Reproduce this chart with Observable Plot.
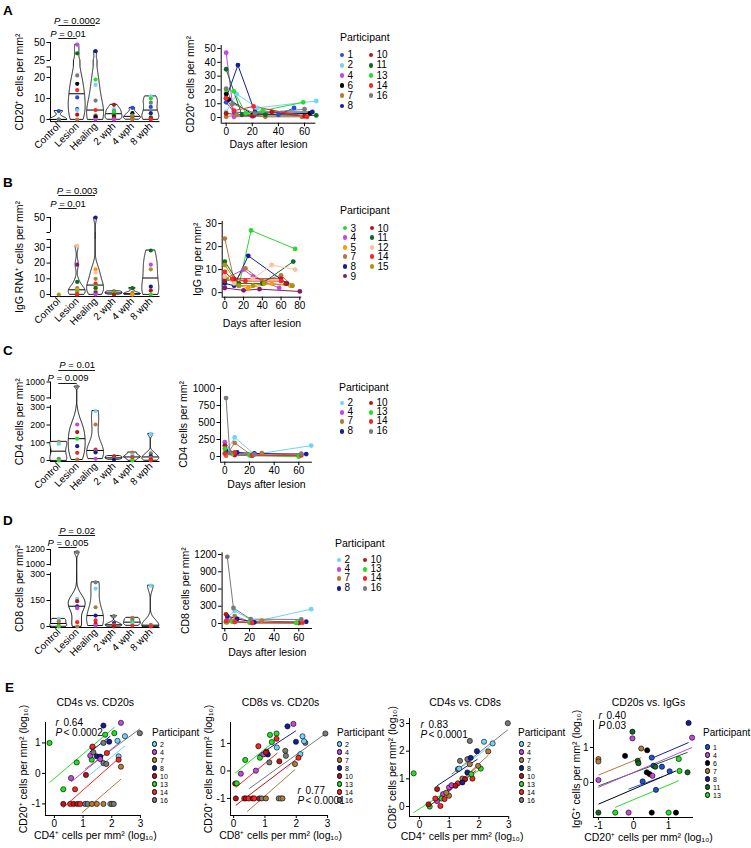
<!DOCTYPE html>
<html><head><meta charset="utf-8">
<script src="https://cdn.jsdelivr.net/npm/d3@7"></script>
<script src="https://cdn.jsdelivr.net/npm/@observablehq/plot@0.6"></script>
<style>
html,body{margin:0;padding:0;background:#fff;}
#page{position:relative;width:751px;height:848px;overflow:hidden;font-family:"Liberation Sans",Arial,sans-serif;color:#000;}
#page svg{position:absolute;left:0;top:0;}
#page .t{position:absolute;white-space:nowrap;}
#page .d{position:absolute;border-radius:50%;box-sizing:border-box;}
</style></head>
<body><div id="page"></div>
<script>
// ================= DATA =================
const participantIds = [1,2,3,4,5,6,7,8,9,10,11,12,13,14,15,16];
const participantColors = ["#1f4fe0","#6fd4f7","#2fd62f","#c447e0","#ff9a00","#000000","#b37a3c","#141e96","#86186c","#b81616","#0e6a1e","#f9c39a","#22e022","#ff2424","#a69812","#7a7a7a"];
const violinCategories = ["Control","Lesion","Healing","2 wph","4 wph","8 wph"];

// violin rows: [category index, value, participant]
const cd20Violin = [
 [0,4,1],[0,0,11],[0,0,16],
 [1,47,4],[1,35,11],[1,21,16],[1,17,6],[1,14,14],[1,10.5,1],[1,5,8],[1,4.5,2],[1,2.3,10],[1,0,7],
 [2,38,8],[2,19,13],[2,16.5,2],[2,9,16],[2,4.5,14],[2,2,7],[2,1.5,11],[2,1,6],[2,0,4],
 [3,7,10],[3,5,2],[3,4,16],[3,3.5,13],[3,2,11],[3,1,6],[3,0.5,14],[3,0,4],
 [4,5.5,1],[4,3,6],[4,2,16],[4,1,13],[4,0.5,14],[4,0,7],
 [5,11,2],[5,10,13],[5,8,16],[5,6,1],[5,3,8],[5,1,11],[5,0.5,10],[5,0,14]
];
const igRnaViolin = [
 [0,0,15],
 [1,31,12],[1,19,9],[1,8,11],[1,4,7],[1,3,5],[1,2,3],[1,1,15],[1,0,10],[1,0,14],
 [2,50,8],[2,16,5],[2,14,12],[2,10,7],[2,7,14],[2,5,3],[2,4,11],[2,2,15],[2,1,9],[2,0,4],
 [3,2,11],[3,1.5,7],[3,1,15],[3,0.5,3],[3,0,10],
 [4,4,11],[4,1,7],[4,0,15],[4,0,5],
 [5,28,11],[5,19,4],[5,16,15],[5,5,8],[5,2.5,10],[5,0,3]
];
const cd4Violin = [
 [0,105,7],[0,95,2],[0,10,16],[0,0,13],
 [1,855,16],[1,203,4],[1,160,10],[1,123,13],[1,81,8],[1,43,14],[1,5,7],
 [2,279,2],[2,203,7],[2,62,14],[2,51,16],[2,45,8],[2,10,4],
 [3,25,16],[3,20,10],[3,15,14],[3,10,7],[3,5,8],
 [4,45,7],[4,30,2],[4,20,16],[4,15,14],[4,0,13],
 [5,150,2],[5,40,16],[5,25,8],[5,15,7],[5,5,10],[5,0,14]
];
const cd8Violin = [
 [0,44,2],[0,30,7],[0,5,16],[0,0,13],
 [1,1165,16],[1,160,2],[1,146,10],[1,117,8],[1,106,4],[1,25,14],[1,0,7],
 [2,255,16],[2,219,2],[2,111,7],[2,63,8],[2,35,14],[2,15,10],[2,5,4],
 [3,60,16],[3,20,8],[3,10,7],[3,5,14],[3,0,10],
 [4,50,7],[4,40,16],[4,25,13],[4,15,2],[4,5,14],
 [5,236,2],[5,10,16],[5,5,7],[5,0,14]
];
// significance brackets: [from category, to category, P value]
const cd20Stats = [[0,2,"0.0002"],[0,1,"0.01"]];
const igRnaStats = [[0,2,"0.003"],[0,1,"0.01"]];
const cd4Stats = [[0,2,"0.01"],[0,1,"0.009"]];
const cd8Stats = [[0,2,"0.02"],[0,1,"0.005"]];

// broken-axis tick values and labels
const cd20Ticks = [0,10,20,25,25.01,50];
const cd20TickLabels = ["0","10","20","","25","50"];
const igRnaTicks = [0,10,20,30,35,35.01,50];
const igRnaTickLabels = ["0","10","20","30","","","50"];
const cd4Ticks = [0,100,200,300,500,1000];
const cd4TickLabels = ["0","100","200","300","500","1000"];
const cd8Ticks = [0,150,300,1000,1200];
const cd8TickLabels = ["0","150","300","1000","1200"];

// time courses: [participant, day, value]
const cd20Time = [
 [1,0,11],[1,6,4],[1,40,2],[1,52,7],
 [2,0,4],[2,8,17],[2,24,7],[2,69,12],
 [4,0,47],[4,6,0.5],[4,21,1],[4,60,1],
 [6,0,17],[6,2,13],[6,21,2],[6,64,3],
 [7,0,0.5],[7,8,2],[7,30,0.5],[7,58,0.5],
 [8,0,14],[8,9,38],[8,22,4],[8,66,4],
 [10,0,3],[10,20,1],[10,35,4],[10,60,1],
 [11,0,35],[11,12,2],[11,30,2],[11,69,1.5],
 [13,0,20],[13,6,19],[13,15,3],[13,28,5],[13,59,11],
 [14,0,14],[14,6,5],[14,21,8],[14,62,0.5],
 [16,0,21],[16,5,10],[16,22,3],[16,60,6]
];
const igGTime = [
 [3,2,6],[3,15,3],[3,28,27],[3,75,19],
 [4,0,6],[4,20,10],[4,30,7],[4,58,2],
 [5,0,9],[5,15,3],[5,25,2],[5,50,4],[5,70,3],
 [7,0,23.5],[7,10,5],[7,22,10.5],[7,40,5],[7,60,7.5],[7,72,3],
 [8,0,4],[8,10,3],[8,25,16],[8,66,4],
 [9,0,2],[9,20,1],[9,37,1.5],[9,80,0.5],
 [10,0,5],[10,10,6],[10,60,6],[10,65,4],
 [11,0,13.5],[11,15,4],[11,40,4],[11,73,13.5],
 [12,0,7],[12,10,4],[12,30,6],[12,50,12],[12,75,10],
 [14,0,9],[14,8,6],[14,22,5],[14,60,5],
 [15,0,12],[15,15,3],[15,30,3],[15,42,4],[15,72,3]
];
const cd4Time = [
 [2,2,90],[2,8,280],[2,24,30],[2,70,160],
 [4,0,210],[4,8,20],[4,22,10],[4,60,10],
 [7,1,10],[7,8,200],[7,22,15],[7,30,50],[7,60,15],
 [8,1,80],[8,10,60],[8,24,45],[8,66,35],
 [10,0,160],[10,8,25],[10,22,20],[10,60,5],
 [13,0,115],[13,6,40],[13,20,15],[13,60,0],
 [14,0,45],[14,8,60],[14,22,15],[14,62,15],
 [16,1,860],[16,4,50],[16,24,30],[16,62,40]
];
const cd8Time = [
 [2,2,100],[2,8,220],[2,24,30],[2,70,250],
 [4,2,80],[4,8,30],[4,22,10],[4,60,10],
 [7,2,20],[7,8,130],[7,22,20],[7,30,50],[7,58,15],
 [8,2,130],[8,10,80],[8,24,20],[8,66,30],
 [10,1,160],[10,8,30],[10,22,20],[10,60,10],
 [13,1,20],[13,6,30],[13,20,15],[13,58,10],
 [14,1,40],[14,8,30],[14,22,10],[14,63,15],
 [16,2,1160],[16,7,270],[16,21,75],[16,62,70]
];

// correlations (log10): points [x, y, participant]; fits [participant, x1, y1, x2, y2]
const cd4VsCd20 = [
 [-0.17,1.0,13],[0.31,-0.52,13],[0.78,0.36,13],[0.58,-0.15,4],[1.1,-0.05,10],[0.72,-0.52,14],
 [1.33,0.86,13],[1.33,0.88,14],[1.3,0.45,13],[1.25,0.58,4],[1.36,0.69,16],[1.48,0.56,8],
 [1.6,0.55,8],[1.71,1.57,8],[1.77,1.27,13],[1.71,1.0,16],[1.91,1.04,8],[1.83,0.67,14],
 [1.6,0.47,4],[1.71,0.34,16],[1.81,0.31,16],[2.32,1.66,4],[2.09,1.32,13],[2.2,1.07,2],
 [2.46,1.22,2],[2.98,1.32,16],[2.24,0.56,2],[2.24,0.45,14],[2.32,0.22,7],
 [0.31,-1,10],[0.55,-1,14],[0.67,-1,10],[0.8,-1,10],[0.9,-1,14],[1.07,-1,16],[1.16,-1,16],
 [1.31,-1,7],[1.48,-1,7],[1.71,-1,7],[1.95,-1,2],[2.0,-1,7],[2.07,-1,16]
];
const cd4VsCd20Fits = [
 [13,-0.17,-0.3,2.1,1.52],[4,0.58,-0.28,2.32,1.05],[8,1.22,0.69,1.95,1.22],[16,1.07,0.14,2.98,1.46],
 [2,1.19,-0.08,2.46,0.9],[14,0.31,-1.12,2.24,0.49],[7,0.96,-1.29,2.32,-0.19]
];
const cd8VsCd20 = [
 [0.05,-0.46,10],[0.1,-0.45,13],[0.23,-0.1,4],[0.37,0.4,13],[0.71,0.01,4],[0.79,0.9,14],
 [0.84,0.48,13],[0.95,0.6,4],[1.09,0.6,8],[1.05,0.7,14],[1.03,0.67,10],[1.16,1.31,13],
 [1.22,1.05,13],[1.14,0.31,16],[1.37,1.36,13],[1.37,1.17,14],[1.38,0.85,2],[1.65,0.73,16],
 [1.67,0.55,16],[1.46,0.35,10],[1.72,1.62,8],[1.91,1.71,4],[1.99,1.06,8],[1.96,0.25,7],
 [2.2,1.26,2],[2.29,1.02,16],[2.13,0.61,2],[2.07,0.48,14],[2.93,1.36,16],[2.25,1.08,2],
 [0.07,-1,10],[0.34,-1,14],[0.39,-1,10],[0.48,-1,14],[0.61,-1,10],[0.66,-1,14],[0.82,-1,10],
 [0.9,-1,16],[1.03,-1,7],[1.44,-1,7],[1.51,-1,2],[1.56,-1,7]
];
const cd8VsCd20Fits = [
 [13,0.05,-0.08,1.27,1.05],[14,0.07,-0.6,1.4,0.65],[10,0.07,-1.25,2.15,0.55],[8,0.77,0.55,1.99,1.46],
 [16,0.5,-0.64,2.89,1.32],[2,1.67,0.05,2.25,0.7],[7,0.43,-1.48,1.96,0.05]
];
const cd4VsCd8 = [
 [-0.2,1.2,13],[0.34,0,13],[0.7,0.02,14],[0.59,0.63,10],[0.59,0.2,4],[0.53,0.29,14],
 [0.79,0.45,4],[0.74,0.29,13],[0.84,0.27,14],[0.99,0.69,4],[1.08,0.77,4],[0.99,0.39,7],
 [0.9,0.5,7],[1.29,0.84,14],[1.21,0.75,10],[1.29,1.35,16],[1.36,1.65,16],[1.61,1.71,16],
 [1.69,2.37,16],[1.72,1.76,8],[1.93,2.0,8],[1.69,1.53,7],[1.44,1.01,7],[1.53,0.99,10],
 [1.61,1.23,8],[1.78,1.01,14],[1.74,1.17,13],[2.06,1.37,13],[1.97,1.47,7],[2.17,2.34,2],
 [2.46,2.28,2],[2.31,1.99,7],[2.97,3.01,16],[1.44,0.87,8],[1.33,1.37,2],[0.3,0.08,10]
];
const cd4VsCd8Fits = [
 [16,1.08,1.17,2.97,2.77],[2,1.33,1.35,2.46,2.25],[8,0.59,0.75,1.95,1.71],[13,-0.2,-0.22,2.06,1.35],
 [14,0.53,0.15,1.95,1.45],[10,0.3,0.0,1.9,1.3],[7,0.9,0.45,2.31,1.85],[4,0.59,0.25,1.08,0.7]
];
const cd20VsIgg = [
 [-1.0,0.67,7],[-1.0,0.6,7],[-1.0,0.07,4],[-1.0,-0.86,11],[-0.24,0.76,6],[-0.03,1.45,11],
 [-0.03,1.26,4],[0.22,0.97,7],[0.12,0.62,11],[0.14,0.55,11],[0.26,0.03,1],[0.39,0.92,6],
 [0.38,0.29,6],[0.46,0.24,6],[0.52,0.71,1],[0.54,0.19,4],[0.57,0.48,1],[0.62,0.45,11],
 [0.64,-0.21,1],[0.81,0.45,1],[1.03,0.32,1],[1.29,0.67,13],[1.31,0.33,13],[1.54,0.29,11],
 [1.57,1.7,8],[1.67,1.28,4],
 [-0.52,-0.86,13],[-0.14,-0.86,4],[0.52,-0.86,6],[1.0,-0.86,13],[1.21,-0.86,6]
];
const cd20VsIggFits = [
 [7,-1,0.21,0.22,0.71],[11,-1,-0.1,1.54,0.86],[4,-1,-0.14,1.67,1.0],[8,0.52,0.69,1.57,1.14],
 [1,-0.14,-0.19,0.81,0.16],[6,-1,-0.62,1.21,0.33],[13,-0.52,-0.71,1.29,0.05]
];
const correlationStats = [["0.64","< 0.0002"],["0.77","< 0.0001"],["0.83","< 0.0001"],["0.40","0.03"]];

const legendA = [[1,2,4,6,7,8],[10,11,13,14,16]];
const legendB = [[3,4,5,7,8,9],[10,11,12,14,15]];
const legendCD = [[2,4,7,8],[10,13,14,16]];
const legendE = [[2,4,7,8,10,13,14,16]];
const legendE4 = [[1,4,6,7,8,11,13]];

// ================= RENDERING =================
const FONT = '"Liberation Sans", Arial, sans-serif';
const W = 751, H = 848;
const page = document.getElementById("page");
const colorOpts = {type: "ordinal", domain: participantIds, range: participantColors};
const CW = {"0":.556,"1":.556,"2":.556,"3":.556,"4":.556,"5":.556,"6":.556,"7":.556,"8":.556,"9":.556,".":.278," ":.278,"=":.584,"<":.584,"P":.667,"r":.333};
const tw = (s, fs) => d3.sum([...s], c => CW[c] ?? 0.556) * fs;
const fmt = d => String(d);

function place(frame, x, y, marks) {
  const [x0, x1, y0, y1] = frame;
  const svg = Plot.plot({
    width: W, height: H,
    marginLeft: x0, marginRight: W - x1, marginTop: y0, marginBottom: H - y1,
    x, y, color: colorOpts, marks,
    style: {background: "transparent", fontFamily: FONT, fontSize: "10px", color: "black", overflow: "visible"}
  });
  page.appendChild(svg);
}
function yLabel(text, dx, fs = 10.5) {
  return Plot.text([text], {frameAnchor: "left", text: d => d, rotate: -90, dx, fontSize: fs, fill: "black", textAnchor: "middle", lineAnchor: "middle"});
}
function xLabel(text, dy, dx = 0, fs = 10.5) {
  return Plot.text([text], {frameAnchor: "bottom", text: d => d, dx, dy, fontSize: fs, fill: "black", textAnchor: "middle", lineAnchor: "middle"});
}
function html(text, x, y, fs, lh = fs, extra = "") {
  const d = document.createElement("div");
  d.className = "t"; d.textContent = text;
  d.style.cssText += `left:${x}px;top:${y - lh / 2}px;font-size:${fs}px;line-height:${lh}px;${extra}`;
  page.appendChild(d);
}
function legend(x, y, dotXs, row0, step, cols, fs, titleFs, r, outline) {
  html("Participant", x, y, titleFs);
  const lh = Math.min(fs, step - 0.6);
  cols.forEach((ids, ci) => ids.forEach((id, ri) => {
    const cy = row0 + ri * step, cx = dotXs[ci];
    const dot = document.createElement("div");
    dot.className = "d";
    dot.style.cssText += `left:${cx - r}px;top:${cy - r}px;width:${2 * r}px;height:${2 * r}px;background:${participantColors[participantIds.indexOf(id)]};${outline ? "border:0.7px solid #000;" : ""}`;
    page.appendChild(dot);
    html(String(id), cx + r + 3, cy, fs, lh);
  }));
}

function violinShapes(rows, halfW) {
  const shape = [], medians = [];
  for (let c = 0; c < violinCategories.length; c++) {
    const v = rows.filter(r => r[0] === c).map(r => r[1]).sort(d3.ascending);
    if (v.length < 2 || v[0] === v[v.length - 1]) continue;
    const sd = d3.deviation(v);
    const iqr = (d3.quantile(v, 0.75) - d3.quantile(v, 0.25)) / 1.34;
    const spread = iqr > 0 ? Math.min(sd, iqr) : sd;
    const h = 0.9 * spread * Math.pow(v.length, -0.2);
    const dens = y => d3.sum(v, x => Math.exp(-0.5 * ((y - x) / h) ** 2));
    const lo = v[0], hi = v[v.length - 1], n = 200;
    const ys = d3.range(n + 1).map(i => lo + (hi - lo) * i / n);
    const ds = ys.map(dens);
    const mx = d3.max(ds);
    ys.forEach((y, i) => shape.push({c, y, w: halfW * ds[i] / mx}));
    const m = d3.median(v);
    medians.push({c, y: m, w: halfW * dens(m) / mx});
  }
  return {shape, medians};
}

function violinPanel(cfg) {
  const xDom = [-0.45, 5.5];
  const {shape, medians} = violinShapes(cfg.rows, 0.46);
  const labelMap = new Map(cfg.ticks.map((t, i) => [t, cfg.tickLabels[i]]));
  const top = cfg.yDomain[cfg.yDomain.length - 1];
  const marks = [
    Plot.ruleX(cfg.segments, {x: () => xDom[0], y1: d => d[0], y2: d => d[1], stroke: "black", strokeWidth: 1}),
    Plot.ruleY([cfg.segments[0][0]], {x1: () => xDom[0], x2: () => xDom[1], stroke: "black", strokeWidth: 1}),
    Plot.axisY({ticks: cfg.ticks, tickFormat: d => labelMap.get(d), tickSize: 3.5, tickPadding: 2, fontSize: cfg.tickFs ?? 10, fill: "black", stroke: "black", label: null}),
    Plot.axisX({ticks: d3.range(violinCategories.length), tickFormat: i => violinCategories[i], tickRotate: -45, tickSize: 0, tickPadding: 3, fontSize: 10, fill: "black", label: null}),
    Plot.areaX(shape, {y: "y", x1: d => d.c - d.w, x2: d => d.c + d.w, z: "c", fill: "white", stroke: "black", strokeWidth: 0.9, curve: "linear"}),
    Plot.ruleY(medians, {y: "y", x1: d => d.c - d.w, x2: d => d.c + d.w, stroke: "black", strokeWidth: 1}),
    Plot.dot(cfg.rows, {x: d => d[0], y: d => d[1], fill: d => d[2], r: 2.1}),
    yLabel(cfg.label, -30.5)
  ];
  cfg.stats.forEach((s, i) => {
    const [lineDy, textDy] = cfg.statDy[i];
    const full = "P = " + s[2];
    const w = tw(full, 9.5);
    marks.push(Plot.ruleY([top], {x1: () => s[0], x2: () => s[1], dy: lineDy, stroke: "black", strokeWidth: 0.9}));
    marks.push(Plot.text([s], {x: d => (d[0] + d[1]) / 2, y: () => top, text: () => "P", fontStyle: "italic", fill: "black", textAnchor: "start", lineAnchor: "middle", dx: -w / 2, dy: textDy, fontSize: 9.5}));
    marks.push(Plot.text([s], {x: d => (d[0] + d[1]) / 2, y: () => top, text: d => "= " + d[2], fill: "black", textAnchor: "start", lineAnchor: "middle", dx: -w / 2 + tw("P ", 9.5), dy: textDy, fontSize: 9.5}));
  });
  place(cfg.frame,
    {type: "linear", domain: xDom, range: [cfg.frame[0], cfg.frame[1]]},
    {type: "linear", domain: cfg.yDomain, range: cfg.yRange},
    marks);
}

function linePanel(cfg) {
  const [x0, x1, y0, y1] = cfg.frame;
  place(cfg.frame,
    {type: "linear", domain: cfg.xDomain, range: [x0, x1]},
    {type: "linear", domain: cfg.yDomain, range: [y1, y0]},
    [
      Plot.ruleX([cfg.xDomain[0]], {y1: () => cfg.yDomain[0], y2: () => cfg.yDomain[1], stroke: "black", strokeWidth: 1}),
      Plot.ruleY([cfg.yDomain[0]], {x1: () => cfg.xDomain[0], x2: () => cfg.xDomain[1], stroke: "black", strokeWidth: 1}),
      Plot.axisX({ticks: cfg.xTicks, tickFormat: fmt, tickSize: 3.5, tickPadding: 1.5, fontSize: 10, fill: "black", stroke: "black", label: null}),
      Plot.axisY({ticks: cfg.yTicks, tickFormat: fmt, tickSize: 3.5, tickPadding: 2, fontSize: 10, fill: "black", stroke: "black", label: null}),
      Plot.line(cfg.rows, {x: d => d[1], y: d => d[2], z: d => d[0], stroke: d => d[0], strokeWidth: 1}),
      Plot.dot(cfg.rows, {x: d => d[1], y: d => d[2], fill: d => d[0], r: 2.4}),
      yLabel(cfg.yLabel, cfg.yLabelDx),
      xLabel("Days after lesion", cfg.xLabelDy)
    ]);
}

function scatterPanel(cfg) {
  const [x0, x1, y0, y1] = cfg.frame;
  const [rv, pv] = cfg.stat;
  const [sx, sy] = cfg.statPos;
  place(cfg.frame,
    {type: "linear", domain: cfg.xDomain, range: [x0, x1]},
    {type: "linear", domain: cfg.yDomain, range: [y1, y0]},
    [
      Plot.ruleX([cfg.xDomain[0]], {y1: () => cfg.yDomain[0], y2: () => cfg.yDomain[1], stroke: "black", strokeWidth: 1}),
      Plot.ruleY([cfg.yDomain[0]], {x1: () => cfg.xDomain[0], x2: () => cfg.xDomain[1], stroke: "black", strokeWidth: 1}),
      Plot.axisX({ticks: cfg.xTicks, tickFormat: fmt, tickSize: 3, tickPadding: 1.5, fontSize: 10, fill: "black", stroke: "black", label: null}),
      Plot.axisY({ticks: cfg.yTicks, tickFormat: fmt, tickSize: 3, tickPadding: 2, fontSize: 10, fill: "black", stroke: "black", label: null}),
      Plot.link(cfg.fits, {x1: d => d[1], y1: d => d[2], x2: d => d[3], y2: d => d[4], stroke: d => d[0], strokeWidth: 1}),
      Plot.dot(cfg.points, {x: d => d[0], y: d => d[1], fill: d => d[2], stroke: "black", strokeWidth: 0.6, r: 2.6}),
      Plot.text([cfg.title], {frameAnchor: "top", text: d => d, dx: cfg.titleDx, dy: cfg.titleDy, fontSize: 10.5, fill: "black", lineAnchor: "middle"}),
      Plot.text(["r"], {frameAnchor: "top-left", text: d => d, fontStyle: "italic", fill: "black", dx: sx, dy: sy, fontSize: 10, textAnchor: "start", lineAnchor: "middle"}),
      Plot.text([rv], {frameAnchor: "top-left", text: d => d, fill: "black", dx: sx + 8, dy: sy, fontSize: 10, textAnchor: "start", lineAnchor: "middle"}),
      Plot.text(["P"], {frameAnchor: "top-left", text: d => d, fontStyle: "italic", fill: "black", dx: sx, dy: sy + 10.5, fontSize: 10, textAnchor: "start", lineAnchor: "middle"}),
      Plot.text([pv], {frameAnchor: "top-left", text: d => d, fill: "black", dx: sx + 8, dy: sy + 10.5, fontSize: 10, textAnchor: "start", lineAnchor: "middle"}),
      yLabel(cfg.yLabel, cfg.yLabelDx),
      xLabel(cfg.xLabel, 20, cfg.xLabelDx)
    ]);
}

// ---------- violins ----------
violinPanel({rows: cd20Violin, stats: cd20Stats, ticks: cd20Ticks, tickLabels: cd20TickLabels,
  frame: [50, 159.5, 42, 121], yDomain: [0, 25, 25.01, 50], yRange: [119, 66.5, 60, 42],
  segments: [[-1, 25], [25.01, 50]], statDy: [[-17, -22], [-4, -9]], label: "CD20⁺ cells per mm²"});
violinPanel({rows: igRnaViolin, stats: igRnaStats, ticks: igRnaTicks, tickLabels: igRnaTickLabels,
  frame: [50, 159.5, 217, 296], yDomain: [0, 35, 35.01, 50], yRange: [294, 239, 232, 217],
  segments: [[-1.3, 35], [35.01, 50]], statDy: [[-22, -27], [-9, -14]], label: "IgG RNA⁺ cells per mm²"});
violinPanel({rows: cd4Violin, stats: cd4Stats, ticks: cd4Ticks, tickLabels: cd4TickLabels, tickFs: 8.8,
  frame: [50, 159.5, 381.5, 461], yDomain: [0, 310, 450, 1000], yRange: [460, 405, 399, 381.5],
  segments: [[-5.6, 310], [450, 1000]], statDy: [[-11.5, -17.5], [1.5, -4.5]], label: "CD4 cells per mm²"});
violinPanel({rows: cd8Violin, stats: cd8Stats, ticks: cd8Ticks, tickLabels: cd8TickLabels, tickFs: 8.8,
  frame: [50, 159.5, 549, 627], yDomain: [0, 310, 980, 1200], yRange: [626, 572.3, 565.5, 549],
  segments: [[-5.8, 310], [980, 1200]], statDy: [[-14, -19], [-2, -7]], label: "CD8 cells per mm²"});

// ---------- time courses ----------
linePanel({rows: cd20Time, frame: [220.7, 315.4, 45, 122.7], xDomain: [-3.8, 68.7], yDomain: [-4.1, 52.2],
  xTicks: [0, 20, 40, 60], yTicks: [0, 10, 20, 30, 40, 50], yLabel: "CD20⁺ cells per mm²", yLabelDx: -30.7, xLabelDy: 21});
linePanel({rows: igGTime, frame: [221.7, 301.2, 221, 296.7], xDomain: [-2.8, 82], yDomain: [-2, 30.9],
  xTicks: [0, 20, 40, 60, 80], yTicks: [0, 10, 20, 30], yLabel: "IgG ng per mm²", yLabelDx: -24.7, xLabelDy: 26});
linePanel({rows: cd4Time, frame: [220, 311.9, 386, 461.7], xDomain: [-3.5, 71], yDomain: [-84, 1030],
  xTicks: [0, 20, 40, 60], yTicks: [0, 250, 500, 750, 1000], yLabel: "CD4 cells per mm²", yLabelDx: -37, xLabelDy: 22.5});
linePanel({rows: cd8Time, frame: [221.6, 311.9, 552.3, 628], xDomain: [-2.2, 71], yDomain: [-87, 1230],
  xTicks: [0, 20, 40, 60], yTicks: [0, 300, 600, 900, 1200], yLabel: "CD8 cells per mm²", yLabelDx: -36.6, xLabelDy: 24});

// ---------- correlations ----------
scatterPanel({points: cd4VsCd20, fits: cd4VsCd20Fits, stat: correlationStats[0], statPos: [10, 0],
  frame: [45, 140.5, 722, 815], xDomain: [-0.31, 3.02], yDomain: [-1.38, 1.67], xTicks: [0, 1, 2, 3], yTicks: [-1, 0, 1],
  title: "CD4s vs. CD20s", titleDx: 2, titleDy: -20,
  yLabel: "CD20⁺ cells per mm² (log₁₀)", yLabelDx: -22, xLabel: "CD4⁺ cells per mm² (log₁₀)", xLabelDx: 2});
scatterPanel({points: cd8VsCd20, fits: cd8VsCd20Fits, stat: correlationStats[1], statPos: [67, 68],
  frame: [230, 328, 722, 815], xDomain: [-0.1, 3.03], yDomain: [-1.62, 1.76], xTicks: [0, 1, 2, 3], yTicks: [-1, 0, 1],
  title: "CD8s vs. CD20s", titleDx: 1, titleDy: -20,
  yLabel: "CD20⁺ cells per mm² (log₁₀)", yLabelDx: -22, xLabel: "CD8⁺ cells per mm² (log₁₀)", xLabelDx: 1});
scatterPanel({points: cd4VsCd8, fits: cd4VsCd8Fits, stat: correlationStats[2], statPos: [11, 6],
  frame: [409, 508.2, 718, 816], xDomain: [-0.34, 3.0], yDomain: [-0.36, 3.18], xTicks: [0, 1, 2, 3], yTicks: [0, 1, 2, 3],
  title: "CD4s vs. CD8s", titleDx: 6, titleDy: -16,
  yLabel: "CD8⁺ cells per mm² (log₁₀)", yLabelDx: -17, xLabel: "CD4⁺ cells per mm² (log₁₀)", xLabelDx: 3});
scatterPanel({points: cd20VsIgg, fits: cd20VsIggFits, stat: correlationStats[3], statPos: [5, -5],
  frame: [593, 693, 720, 817], xDomain: [-1.14, 1.71], yDomain: [-1.0, 1.77], xTicks: [-1, 0, 1], yTicks: [0, 1],
  title: "CD20s vs. IgGs", titleDx: 5, titleDy: -18,
  yLabel: "IgG⁺ cells per mm² (log₁₀)", yLabelDx: -17, xLabel: "CD20⁺ cells per mm² (log₁₀)", xLabelDx: 5});

// ---------- legends & panel letters ----------
legend(340, 37, [342, 371], 55, 10.2, legendA, 10, 10.5, 2.4, false);
legend(340, 210, [345, 372], 228, 9.6, legendB, 10, 10.5, 2.4, false);
legend(339, 387, [342, 371], 403, 9.4, legendCD, 10, 10.5, 2.4, false);
legend(335, 543, [339, 365], 560, 9.4, legendCD, 10, 10.5, 2.4, false);
legend(152, 733, [154.5], 744, 8, legendE, 7, 10, 2.6, true);
legend(337, 733, [339.5], 744, 8, legendE, 7, 10, 2.6, true);
legend(518, 733, [521.5], 744, 8, legendE, 7, 10, 2.6, true);
legend(703, 733, [707.5], 747, 8, legendE4, 7, 10, 2.6, true);
[["A", 3, 11], ["B", 3, 183], ["C", 3, 351], ["D", 3, 521], ["E", 5, 688]].forEach(([t, x, y]) => html(t, x, y, 13.5, 13.5, "font-weight:bold;"));
</script>
</body></html>
